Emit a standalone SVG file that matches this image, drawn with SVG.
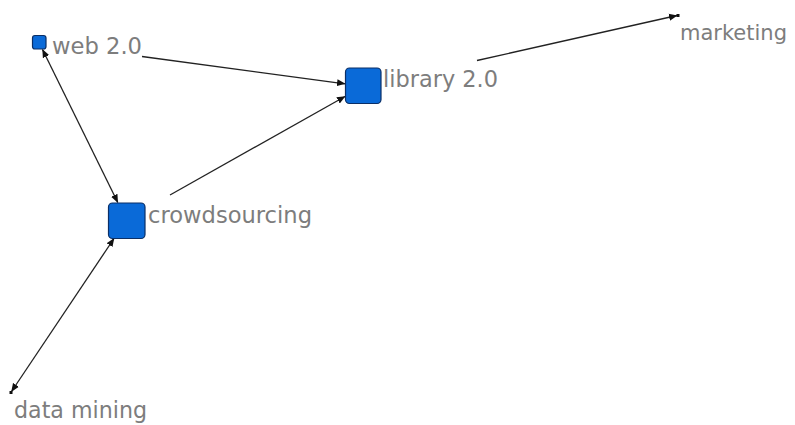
<svg xmlns="http://www.w3.org/2000/svg" width="795" height="425" viewBox="0 0 795 425">
<style>
.edge{stroke:#222;stroke-width:1.3;fill:none}
.node{fill:#0a6ad8;stroke:#0b2f66;stroke-width:1.2}
.pt{fill:#111}
.lbl{font-family:"DejaVu Sans","Verdana",sans-serif;font-size:23px;fill:#7d7d7d}
</style>
<defs>
<marker id="arr" markerUnits="userSpaceOnUse" markerWidth="9" markerHeight="8" refX="8" refY="4" orient="auto-start-reverse" viewBox="0 0 9 8">
<path d="M0,0.5 L8.5,4 L0,7.5 Z" fill="#111"/>
</marker>
</defs>
<rect width="795" height="425" fill="#fff"/>
<g id="connectors">
<line class="edge" x1="142" y1="56.5" x2="345" y2="83.8" marker-end="url(#arr)"/>
<line class="edge" x1="42.5" y1="49.5" x2="117.8" y2="202.5" marker-start="url(#arr)" marker-end="url(#arr)"/>
<line class="edge" x1="170" y1="195" x2="345" y2="96.5" marker-end="url(#arr)"/>
<line class="edge" x1="477" y1="60.5" x2="677" y2="15.5" marker-end="url(#arr)"/>
<line class="edge" x1="114" y1="238.5" x2="11.5" y2="391.5" marker-start="url(#arr)" marker-end="url(#arr)"/>
</g>
<g id="web20">
<rect class="node" x="32.5" y="35.5" width="13.5" height="13.5" rx="2.5"/>
<text class="lbl" x="52" y="54" textLength="90" lengthAdjust="spacingAndGlyphs">web 2.0</text>
</g>
<g id="library20">
<rect class="node" x="345.5" y="68" width="35.5" height="35.5" rx="4"/>
<text class="lbl" x="383" y="87" textLength="115" lengthAdjust="spacingAndGlyphs">library 2.0</text>
</g>
<g id="crowdsourcing">
<rect class="node" x="108.5" y="203" width="36.5" height="35.5" rx="4"/>
<text class="lbl" x="148" y="223" textLength="164" lengthAdjust="spacingAndGlyphs">crowdsourcing</text>
</g>
<g id="marketing">
<rect class="pt" x="676.5" y="14" width="3" height="3"/>
<text class="lbl" x="680" y="40" style="font-size:21px" textLength="107" lengthAdjust="spacingAndGlyphs">marketing</text>
</g>
<g id="datamining">
<rect class="pt" x="9.5" y="391" width="3" height="3"/>
<text class="lbl" x="14" y="418" textLength="133" lengthAdjust="spacingAndGlyphs">data mining</text>
</g>
</svg>
